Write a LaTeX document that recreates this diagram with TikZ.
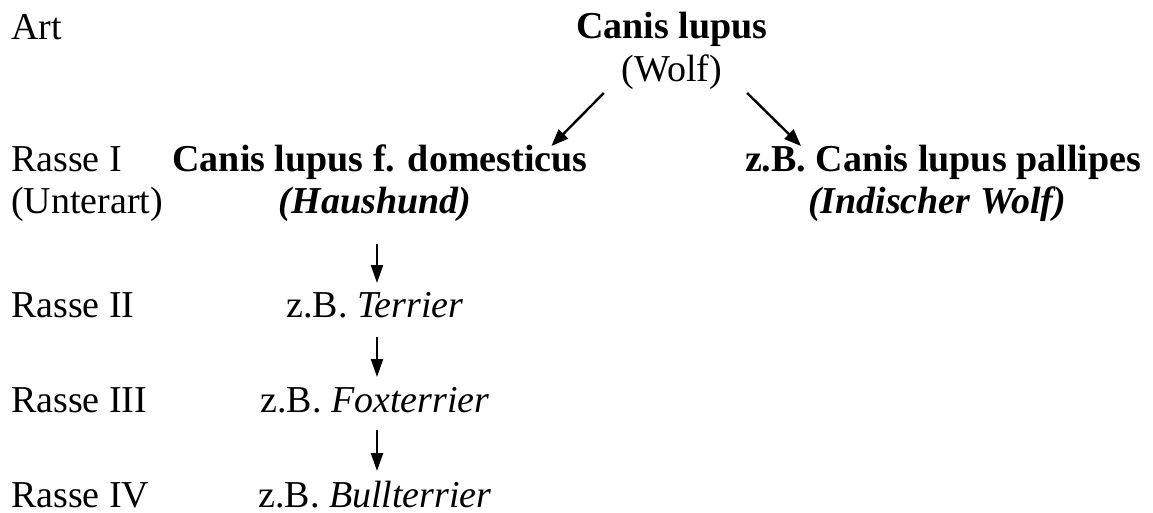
\documentclass[tikz,border=0pt]{standalone}
\usepackage{fontspec}
\setmainfont{Liberation Serif}[
  UprightFont=Liberation Serif,
  BoldFont=Liberation Serif Bold,
  ItalicFont=Liberation Serif Italic,
  BoldItalicFont=Liberation Serif Bold Italic]
\usetikzlibrary{arrows.meta}
\tikzset{
  txt/.style={inner sep=0pt, outer sep=0pt, text height=27pt, text depth=9pt, font=\fontsize{38}{44}\selectfont},
  lab/.style={txt, anchor=base west},
  ctr/.style={txt, anchor=base},
  darr/.style={line width=2.4pt, -{Triangle[length=17pt,width=13pt]}},
  varr/.style={line width=2.2pt, -{Triangle[length=18pt,width=12pt]}}
}
\begin{document}
\begin{tikzpicture}[x=1pt,y=-1pt]
\useasboundingbox (0,0) rectangle (1153,513);
% left labels
\node[lab] (art) at (11,40) {Art};
\node[lab] (r1) at (11,172) {Rasse I};
\node[lab] (unter) at (11,213) {(Unterart)};
\node[lab] (r2) at (11,317) {Rasse II};
\node[lab] (r3) at (11,412) {Rasse III};
\node[lab] (r4) at (11,507) {Rasse IV};
% tree
\node[ctr] (lupus) at (672,39) {\textbf{Canis lupus}};
\node[ctr] (wolf) at (672,82) {(Wolf)};
\node[ctr] (dom) at (380,172) {\textbf{Canis lupus f. domesticus}};
\node[ctr] (hh) at (375,213) {\textbf{\textit{(Haushund)}}};
\node[ctr] (pall) at (943,172) {\textbf{z.B. Canis lupus pallipes}};
\node[ctr] (ind) at (937,213) {\textbf{\textit{(Indischer Wolf)}}};
\node[ctr] (ter) at (375,317) {z.B. \textit{Terrier}};
\node[ctr] (fox) at (375,412) {z.B. \textit{Foxterrier}};
\node[ctr] (bull) at (375,507) {z.B. \textit{Bullterrier}};
% connectors
\draw[darr] ([xshift=-18pt,yshift=-2pt]wolf.south west) -- ([xshift=-36pt,yshift=-1pt]dom.north east);
\draw[darr] ([xshift=25pt,yshift=-2pt]wolf.south east) -- ([xshift=-142pt,yshift=-1pt]pall.north);
\draw[varr, shorten <=22pt, shorten >=7pt] ([xshift=2pt]hh.south) -- ([xshift=2pt]ter.north);
\draw[varr, shorten <=11pt, shorten >=8pt] ([xshift=2pt]ter.south) -- ([xshift=2pt]fox.north);
\draw[varr, shorten <=9pt, shorten >=9pt] ([xshift=2pt]fox.south) -- ([xshift=2pt]bull.north);
\end{tikzpicture}
\end{document}
